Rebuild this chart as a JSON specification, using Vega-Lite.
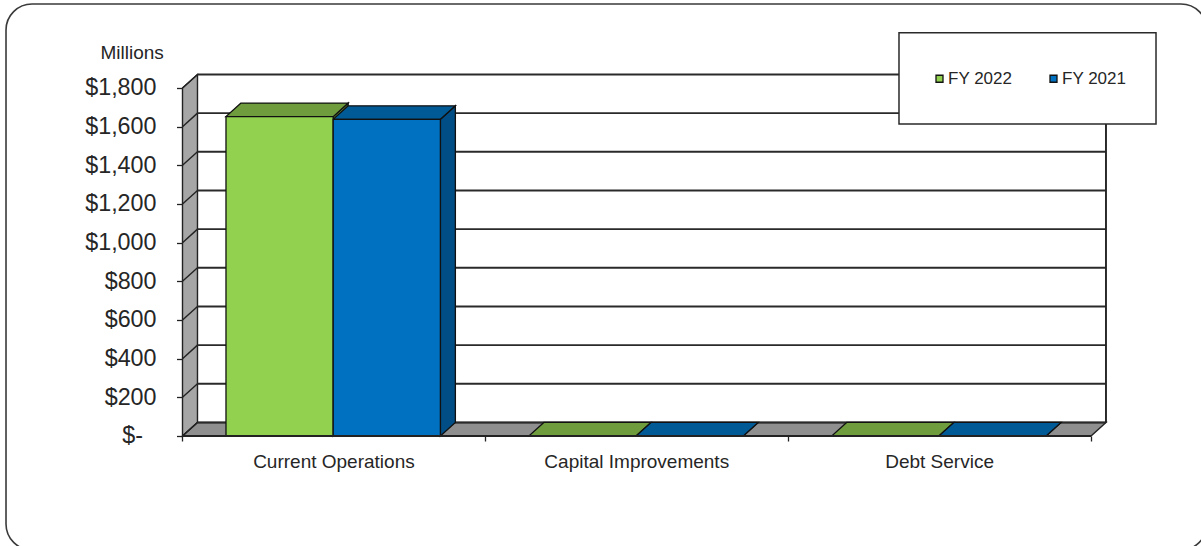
{"$schema":"https://vega.github.io/schema/vega-lite/v6.json","width":1201,"height":546,"padding":0,"autosize":{"type":"none"},"background":"white","config":{"view":{"stroke":null}},
"datasets":{"bars":[{"category":"Current Operations","series":"FY 2022","value":1652},{"category":"Current Operations","series":"FY 2021","value":1638},{"category":"Capital Improvements","series":"FY 2022","value":0},{"category":"Capital Improvements","series":"FY 2021","value":0},{"category":"Debt Service","series":"FY 2022","value":0},{"category":"Debt Service","series":"FY 2021","value":0}],
"ticks":[{"v":0},{"v":200},{"v":400},{"v":600},{"v":800},{"v":1000},{"v":1200},{"v":1400},{"v":1600},{"v":1800}],"edge":[{"d":0},{"d":1}],"one":[{"d":0}]},
"encoding":{"x":{"field":"px","type":"quantitative","stack":null,"title":null,"scale":{"domain":[-0.60264,3.36327],"nice":false,"zero":false},"axis":{"values":[0,1,2,3],"labels":false,"domain":false,"grid":false,"offset":-110,"tickSize":5,"tickColor":"#222","tickWidth":1.3}},
"y":{"field":"py","type":"quantitative","stack":null,"scale":{"domain":[-568.97,2255.17],"nice":false,"zero":false},"axis":{"values":[0,200,400,600,800,1000,1200,1400,1600,1800],"labelExpr":"datum.value==0?'':format(datum.value,'$,.0f')","domain":false,"grid":false,"offset":-182.5,"tickSize":6,"tickColor":"#222","tickWidth":1.3,"labelPadding":20.5,"labelFont":"Liberation Sans","labelFontSize":23.3,"labelColor":"#262626","title":"Millions","titleAngle":0,"titleFont":"Liberation Sans","titleFontWeight":"normal","titleFontSize":19,"titleColor":"#262626","titleAlign":"left","titleBaseline":"middle","titleX":-82.5,"titleY":52}}},
"layer":[
{"data":{"name":"one"},"transform":[{"calculate":"-0.5828","as":"px"},{"calculate":"3.383","as":"px2"},{"calculate":"2234.5","as":"py"},{"calculate":"-589.7","as":"py2"}],"mark":{"type":"rect","clip":true,"cornerRadius":26,"fill":"white","fillOpacity":0,"stroke":"#3a3a3a","strokeWidth":1.6},"encoding":{"x2":{"field":"px2"},"y2":{"field":"py2"}}},
{"data":{"name":"edge"},"transform":[{"calculate":"datum.d*0.0495","as":"px"},{"calculate":"datum.d*70","as":"py"},{"calculate":"1800+datum.d*70","as":"py2"}],"mark":{"type":"area","fill":"#a6a6a6","stroke":"#222","strokeWidth":1.4},"encoding":{"y2":{"field":"py2"}}},
{"data":{"name":"edge"},"transform":[{"calculate":"datum.d*0.0495","as":"px"},{"calculate":"3+datum.d*0.0495","as":"px2"},{"calculate":"datum.d*70","as":"py"}],"mark":{"type":"area","orient":"horizontal","fill":"#8f8f8f","stroke":"#222","strokeWidth":1.4},"encoding":{"x2":{"field":"px2"}}},
{"data":{"name":"ticks"},"transform":[{"calculate":"0.0495","as":"px"},{"calculate":"3.0495","as":"px2"},{"calculate":"datum.v+70","as":"py"}],"mark":{"type":"rule","stroke":"#2a2a2a","strokeWidth":1.9},"encoding":{"x2":{"field":"px2"}}},
{"data":{"name":"ticks"},"transform":[{"calculate":"0","as":"px"},{"calculate":"0.0495","as":"px2"},{"calculate":"datum.v","as":"py"},{"calculate":"datum.v+70","as":"py2"}],"mark":{"type":"rule","stroke":"#222","strokeWidth":1.4},"encoding":{"x2":{"field":"px2"},"y2":{"field":"py2"}}},
{"data":{"name":"one"},"transform":[{"calculate":"3.0495","as":"px"},{"calculate":"70","as":"py"},{"calculate":"1870","as":"py2"}],"mark":{"type":"rule","stroke":"#222","strokeWidth":1.9},"encoding":{"y2":{"field":"py2"}}},
{"data":{"name":"bars"},"transform":[{"calculate":"indexof(['Current Operations','Capital Improvements','Debt Service'],datum.category)+0.1436+(datum.series=='FY 2022'?0:0.354)","as":"left"},{"calculate":"[0,1]","as":"d"},{"flatten":["d"]},{"calculate":"datum.left+0.354+datum.d*0.0495","as":"px"},{"calculate":"datum.d*70","as":"py"},{"calculate":"datum.value+datum.d*70","as":"py2"}],"mark":{"type":"area","stroke":"#111","strokeWidth":1.3},"encoding":{"y2":{"field":"py2"},"detail":{"field":"category"},"fill":{"field":"series","legend":null,"scale":{"domain":["FY 2022","FY 2021"],"range":["#5f8a33","#004e85"]}}}},
{"data":{"name":"bars"},"transform":[{"calculate":"indexof(['Current Operations','Capital Improvements','Debt Service'],datum.category)+0.1436+(datum.series=='FY 2022'?0:0.354)","as":"left"},{"calculate":"[0,1]","as":"d"},{"flatten":["d"]},{"calculate":"datum.left+datum.d*0.0495","as":"px"},{"calculate":"datum.left+0.354+datum.d*0.0495","as":"px2"},{"calculate":"datum.value+datum.d*70","as":"py"}],"mark":{"type":"area","orient":"horizontal","stroke":"#111","strokeWidth":1.3},"encoding":{"x2":{"field":"px2"},"detail":{"field":"category"},"fill":{"field":"series","legend":null,"scale":{"domain":["FY 2022","FY 2021"],"range":["#6f9c3d","#005a96"]}}}},
{"data":{"name":"bars"},"transform":[{"calculate":"indexof(['Current Operations','Capital Improvements','Debt Service'],datum.category)+0.1436+(datum.series=='FY 2022'?0:0.354)","as":"px"},{"calculate":"datum.px+0.354","as":"px2"},{"calculate":"datum.value","as":"py"},{"calculate":"0","as":"py2"}],"mark":{"type":"rect","stroke":"#111","strokeWidth":1.3},"encoding":{"x2":{"field":"px2"},"y2":{"field":"py2"},"color":{"field":"series","title":null,"scale":{"domain":["FY 2022","FY 2021"],"range":["#92d050","#0070c0"]},"legend":{"orient":"none","legendX":931,"legendY":70,"direction":"horizontal","columns":2,"padding":0,"symbolType":"square","symbolSize":49,"symbolStrokeColor":"#111","symbolStrokeWidth":1.3,"symbolOpacity":1,"labelFont":"Liberation Sans","labelFontSize":17,"labelColor":"#262626","labelOffset":0,"columnPadding":32}}}},
{"data":{"name":"one"},"transform":[{"calculate":"0","as":"px"},{"calculate":"3","as":"px2"},{"calculate":"0","as":"py"}],"mark":{"type":"rule","stroke":"#222","strokeWidth":1.9},"encoding":{"x2":{"field":"px2"}}},
{"data":{"name":"ticks"},"transform":[{"filter":"datum.v==0"},{"calculate":"-0.1304","as":"px"},{"calculate":"datum.v","as":"py"},{"calculate":"'$-'","as":"label"}],"mark":{"type":"text","font":"Liberation Sans","fontSize":23.3,"color":"#262626","baseline":"middle","align":"right"},"encoding":{"text":{"field":"label"}}},
{"data":{"name":"bars"},"transform":[{"filter":"datum.series=='FY 2022'"},{"calculate":"indexof(['Current Operations','Capital Improvements','Debt Service'],datum.category)+0.5","as":"px"},{"calculate":"-134.5","as":"py"}],"mark":{"type":"text","font":"Liberation Sans","fontSize":19,"color":"#262626","baseline":"middle","align":"center"},"encoding":{"text":{"field":"category"}}},
{"data":{"name":"one"},"transform":[{"calculate":"2.366","as":"px"},{"calculate":"3.2147","as":"px2"},{"calculate":"2086","as":"py"},{"calculate":"1613.8","as":"py2"}],"mark":{"type":"rect","fill":"white","stroke":"#2a2a2a","strokeWidth":1.5},"encoding":{"x2":{"field":"px2"},"y2":{"field":"py2"}}}
],"resolve":{"scale":{"fill":"independent"}}}
